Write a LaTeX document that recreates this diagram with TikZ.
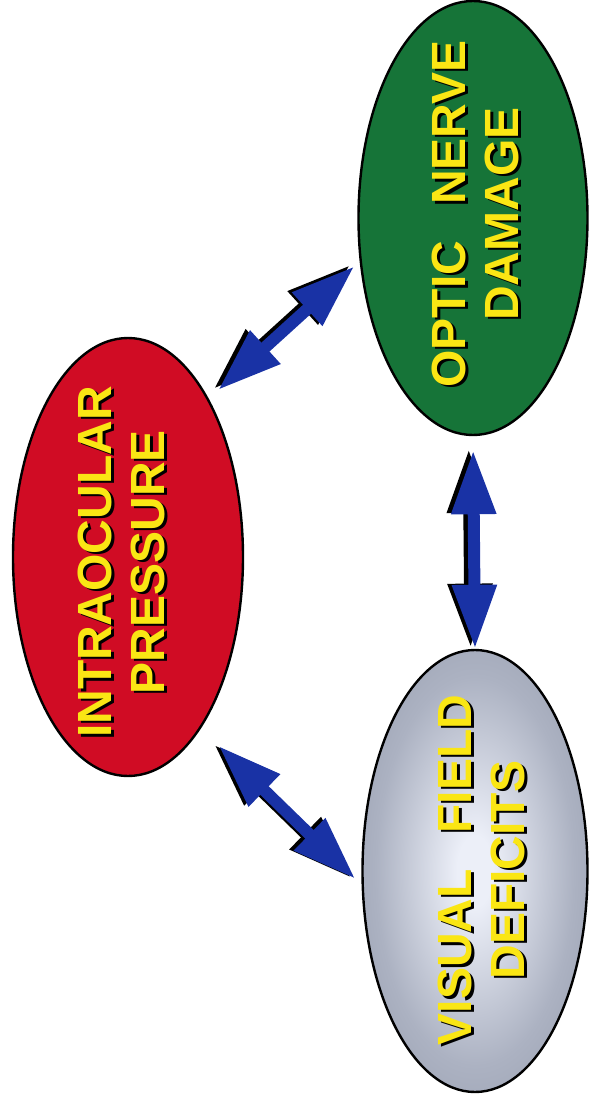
\documentclass[tikz,border=0pt]{standalone}
\usepackage{fontspec}
\setmainfont{Liberation Sans}
\usetikzlibrary{shapes.geometric,arrows.meta}

\definecolor{iopred}{RGB}{208,12,36}
\definecolor{iopdark}{RGB}{160,0,22}
\definecolor{onhgreen}{RGB}{22,116,56}
\definecolor{onhdark}{RGB}{12,90,42}
\definecolor{vflight}{RGB}{236,239,248}
\definecolor{vfmid}{RGB}{172,178,194}
\definecolor{vfdark}{RGB}{122,130,148}
\definecolor{arrowblue}{RGB}{25,50,165}
\definecolor{labelyellow}{RGB}{250,230,20}

\pgfdeclareradialshading{iopshade}{\pgfpointorigin}{color(0bp)=(iopred); color(32bp)=(iopred); color(50bp)=(iopdark)}
\pgfdeclareradialshading{onhshade}{\pgfpointorigin}{color(0bp)=(onhgreen); color(32bp)=(onhgreen); color(50bp)=(onhdark)}
\pgfdeclareradialshading{vfshade}{\pgfpointorigin}{color(0bp)=(vflight); color(4bp)=(vflight); color(22bp)=(vfmid); color(50bp)=(vfdark)}

% yellow capitals with a dark shadow
\newcommand\shadowtxt[1]{\rlap{\kern-1.1pt\raisebox{-1.2pt}{\textcolor{black}{#1}}}#1}

\tikzset{
  blob/.style={ellipse, draw=black, line width=1.2pt, inner sep=0pt},
  blobtext/.style={rotate=90, align=center, text=labelyellow, inner sep=0pt,
    font=\bfseries\fontsize{24}{26.5}\selectfont},
  dblarrow/.style={line width=6pt, draw=arrowblue,
    {Triangle[length=32pt,width=21pt]}-{Triangle[length=32pt,width=21pt]}},
  arrowshadow/.style={dblarrow, draw=black, transform canvas={xshift=-2.2pt, yshift=0.6pt}}
}

\begin{document}
\begin{tikzpicture}[x=0.5pt,y=-0.5pt]
\useasboundingbox (0,0) rectangle (590,1103);
% the three ellipses
\node[blob, shading=iopshade, minimum width=115pt, minimum height=219pt] (iop) at (128,557) {};
\node[blob, shading=onhshade, minimum width=114.5pt, minimum height=217pt] (onh) at (473,218) {};
\node[blob, shading=vfshade, minimum width=112.5pt, minimum height=221pt] (vf) at (475,871) {};
% labels
\node[blobtext] (ioplabel) at (123,562) {\shadowtxt{INTRAOCULAR}\\\shadowtxt{PRESSURE}};
\node[blobtext] (onhlabel) at (477,214) {\shadowtxt{OPTIC\hspace{0.75em}NERVE}\\\shadowtxt{DAMAGE}};
\node[blobtext] (vflabel) at (483,870) {\shadowtxt{VISUAL\hspace{0.75em}FIELD}\\\shadowtxt{DEFICITS}};
% double arrows, shadow first
\foreach \from/\to/\s/\e in {iop.63/onh.201/6.3pt/3.5pt, onh.south/vf.north/7pt/0pt, iop.293/vf.187/12.4pt/4.3pt}{
  \draw[arrowshadow, shorten <=\s, shorten >=\e] (\from) -- (\to);
  \draw[dblarrow, shorten <=\s, shorten >=\e] (\from) -- (\to);
}
\end{tikzpicture}
\end{document}
